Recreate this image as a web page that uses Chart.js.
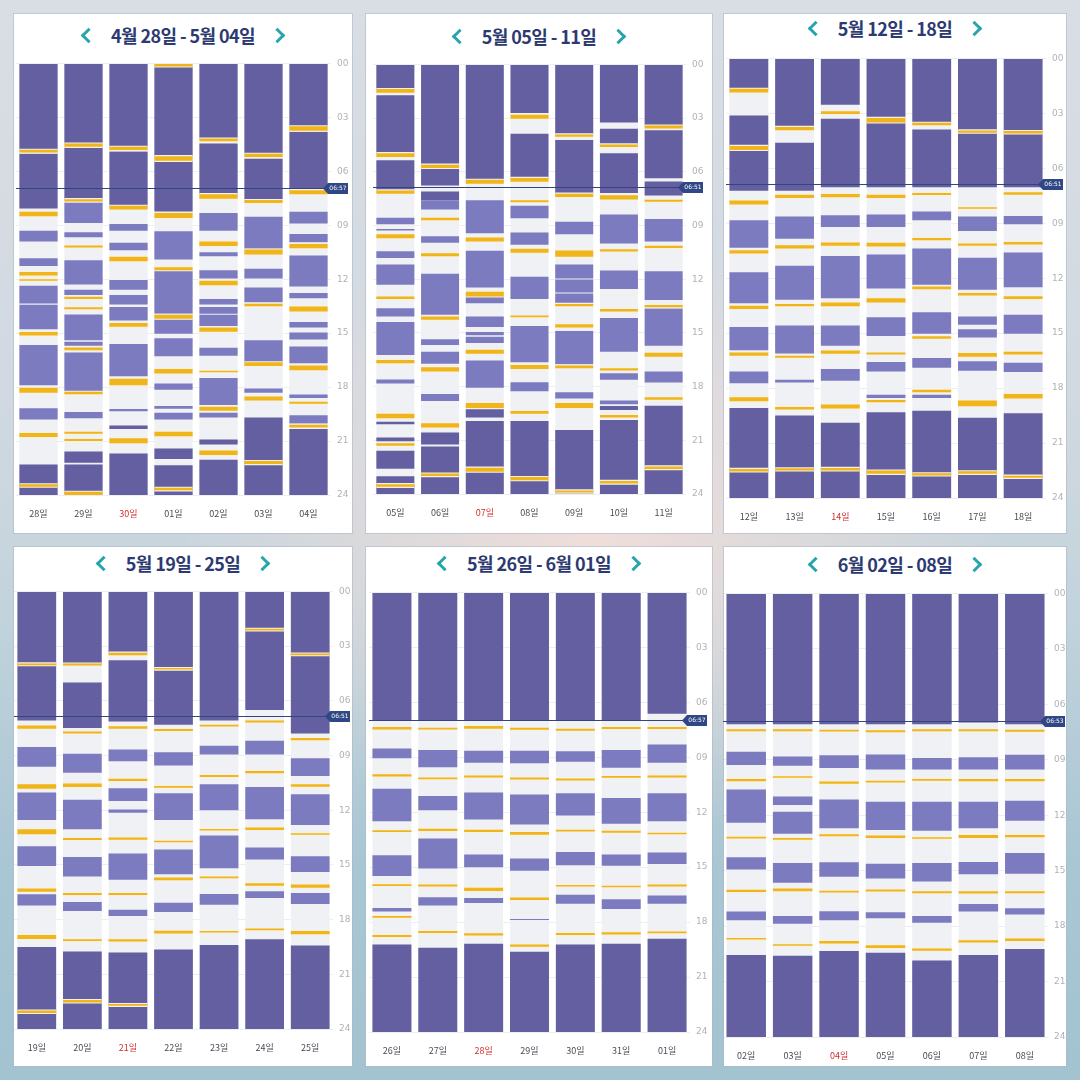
<!DOCTYPE html>
<html>
<head>
<meta charset="utf-8">
<script src="https://cdn.jsdelivr.net/npm/chart.js@4.4.0/dist/chart.umd.min.js"></script>
<style>
  html, body { margin: 0; padding: 0; }
  body {
    width: 1080px; height: 1080px; position: relative; overflow: hidden;
    font-family: "Noto Sans CJK KR", "Noto Sans", sans-serif;
    background:
      radial-gradient(ellipse 420px 300px at 55% 50%, rgba(242,222,218,0.95), rgba(242,222,218,0) 100%),
      linear-gradient(180deg, #d9dee5 0%, #d3d9e0 35%, #c4d4dc 55%, #a9c6d3 80%, #a3c3d1 100%);
  }
  .card {
    position: absolute; background: #fff;
    box-shadow: 0 0 0 1px rgba(170,182,198,0.55);
  }
  .title {
    position: absolute; left: 0; right: 0; height: 24px;
    display: flex; align-items: center; justify-content: center;
    color: #2d3a72; font-weight: 700; font-size: 18px; letter-spacing: -0.6px;
    z-index: 2;
  }
  .chev {
    display: inline-block; width: 8px; height: 8px;
    border-top: 3.5px solid #27a4ae; border-left: 3.5px solid #27a4ae;
  }
  .chev.l { transform: rotate(-45deg); margin-right: 17px; margin-left: 4px; }
  .chev.r { transform: rotate(135deg); margin-left: 17px; margin-right: 4px; }
  canvas { position: absolute; z-index: 1; }
</style>
</head>
<body>
<script>
  // ---- data (hours of the day, 0 = top, 24 = bottom) ----
  const hourTicks = ['00', '03', '06', '09', '12', '15', '18', '21', '24'];
  const dayRange = [0, 24];
  const redDayIndex = 2;

  const weekTitles = ['4월 28일 - 5월 04일', '5월 05일 - 11일', '5월 12일 - 18일',
                      '5월 19일 - 25일', '5월 26일 - 6월 01일', '6월 02일 - 08일'];
  const nowTimes = ['06:57', '06:51', '06:51', '06:51', '06:57', '06:53'];

  const w1Days = ['28일', '29일', '30일', '01일', '02일', '03일', '04일'];
  const w1Night = [
    [[0, 4.79], [5.03, 8.07], [22.3, 24]],
    [[0, 4.46], [4.66, 7.55], [21.58, 22.2], [22.3, 24]],
    [[0, 4.64], [4.9, 7.92], [20.13, 20.33], [21.69, 24]],
    [[0.18, 5.16], [5.43, 8.23], [21.41, 22.0], [22.35, 24]],
    [[0, 4.18], [4.45, 7.27], [20.92, 21.19], [22.04, 24]],
    [[0, 5.03], [5.3, 7.55], [19.69, 24]],
    [[0, 3.5], [3.8, 7.05], [20.33, 24]]
  ];
  const w1Nap = [
    [[9.3, 9.9], [10.83, 11.27], [12.37, 13.35], [13.42, 14.78], [15.66, 17.9], [19.18, 19.8]],
    [[7.73, 8.88], [9.39, 9.67], [10.95, 12.3], [12.59, 12.88], [13.96, 15.39], [15.48, 15.7], [16.08, 18.23], [19.38, 19.73]],
    [[8.93, 9.3], [9.98, 10.39], [12.04, 12.59], [12.88, 13.41], [13.54, 14.29], [15.6, 17.4], [19.22, 19.34]],
    [[9.34, 10.9], [11.55, 13.92], [14.23, 15.04], [15.28, 16.29], [17.8, 18.15], [19.05, 19.2], [19.42, 19.8]],
    [[8.32, 9.3], [10.5, 10.72], [11.5, 11.96], [13.1, 13.41], [13.54, 13.92], [13.98, 14.6], [15.81, 16.25], [17.49, 19.0], [19.42, 19.69]],
    [[8.53, 10.31], [11.42, 11.96], [12.46, 13.28], [15.39, 16.62], [18.08, 18.32]],
    [[8.25, 8.9], [9.48, 9.94], [10.68, 12.4], [12.77, 13.06], [14.38, 14.69], [14.97, 15.35], [15.74, 16.67], [18.41, 18.61], [19.56, 20.02]]
  ];
  const w1Feed = [
    [[4.8, 4.95], [8.25, 8.5], [11.6, 11.8], [12.0, 12.08], [14.93, 15.13], [18.04, 18.32], [20.55, 20.78], [23.4, 23.54]],
    [[4.46, 4.64], [7.55, 7.68], [10.13, 10.24], [12.97, 13.1], [13.56, 13.67], [15.8, 15.95], [18.26, 18.4], [20.48, 20.59], [20.88, 21.0], [23.82, 24]],
    [[4.64, 4.82], [7.92, 8.12], [10.75, 11.0], [14.44, 14.64], [17.53, 17.9], [20.85, 21.12]],
    [[0, 0.17], [5.16, 5.42], [8.32, 8.6], [11.33, 11.5], [13.98, 14.2], [17.0, 17.24], [20.48, 20.74], [23.6, 23.74]],
    [[4.18, 4.33], [7.27, 7.53], [9.9, 10.15], [12.09, 12.33], [14.69, 14.92], [17.09, 17.18], [19.09, 19.32], [21.52, 21.77]],
    [[5.03, 5.2], [7.6, 7.76], [10.35, 10.62], [13.37, 13.5], [16.62, 16.82], [18.52, 18.74], [22.11, 22.28]],
    [[3.5, 3.74], [7.05, 7.27], [10.04, 10.28], [13.52, 13.79], [16.8, 17.06], [18.81, 18.93], [20.1, 20.24]]
  ];

  const w2Days = ['05일', '06일', '07일', '08일', '09일', '10일', '11일'];
  const w2Night = [
    [[0, 1.38], [1.73, 4.96], [5.35, 7.04], [19.96, 20.1], [20.84, 21.06], [21.58, 22.59], [23.01, 24]],
    [[0, 5.6], [5.79, 6.76], [7.1, 7.59], [20.57, 21.24], [21.34, 22.86], [23.0, 24]],
    [[0, 6.45], [19.24, 19.73], [19.92, 22.53], [22.75, 24]],
    [[0, 2.72], [3.87, 6.34], [19.92, 23.05], [23.23, 24]],
    [[0, 3.91], [4.23, 7.22], [20.42, 24]],
    [[0, 3.24], [3.6, 4.47], [4.96, 7.18], [19.09, 19.31], [19.86, 23.27], [23.42, 24]],
    [[0, 3.42], [3.68, 6.36], [6.54, 7.32], [19.07, 22.46], [22.61, 24]]
  ];
  const w2Nap = [
    [[8.57, 8.93], [9.2, 9.28], [10.44, 10.81], [11.18, 12.31], [13.62, 14.08], [14.39, 16.24], [17.6, 17.82]],
    [[7.59, 8.1], [9.6, 9.97], [11.69, 13.99], [15.35, 15.68], [16.05, 16.73], [18.41, 18.81]],
    [[7.59, 9.43], [10.41, 12.46], [12.96, 13.34], [14.08, 14.67], [14.95, 15.13], [15.22, 15.57], [16.54, 18.07]],
    [[7.9, 8.6], [9.39, 10.07], [11.86, 13.1], [14.61, 16.64], [17.75, 18.26]],
    [[8.79, 9.49], [11.18, 11.96], [12.02, 12.74], [12.8, 13.33], [14.89, 16.75], [18.32, 18.67]],
    [[8.38, 10.0], [11.51, 12.55], [14.17, 16.05], [17.25, 17.62], [18.77, 18.99]],
    [[8.64, 9.89], [11.55, 13.16], [13.62, 15.72], [17.16, 17.77]]
  ];
  const w2Feed = [
    [[1.38, 1.58], [4.96, 5.17], [7.04, 7.22], [9.49, 9.71], [12.96, 13.1], [16.51, 16.7], [19.51, 19.77], [21.17, 21.3], [23.45, 23.6]],
    [[5.6, 5.79], [8.57, 8.7], [10.55, 10.72], [14.08, 14.27], [16.92, 17.16], [20.05, 20.29], [22.86, 23.0]],
    [[6.45, 6.67], [9.67, 9.89], [12.7, 12.96], [15.94, 16.16], [18.92, 19.2], [22.53, 22.75]],
    [[2.81, 3.03], [6.34, 6.56], [7.59, 7.7], [10.3, 10.52], [14.03, 14.13], [16.79, 17.01], [19.36, 19.51], [23.05, 23.23]],
    [[3.91, 4.04], [7.22, 7.41], [10.39, 10.75], [13.38, 13.51], [14.52, 14.7], [16.82, 16.97], [18.92, 19.2], [23.8, 23.92]],
    [[4.47, 4.62], [7.31, 7.55], [10.32, 10.45], [13.66, 13.8], [16.97, 17.1], [19.59, 19.73], [23.27, 23.42]],
    [[3.42, 3.58], [7.56, 7.68], [10.13, 10.26], [13.44, 13.57], [16.11, 16.33], [18.59, 18.74], [22.46, 22.61]]
  ];

  const w3Days = ['12일', '13일', '14일', '15일', '16일', '17일', '18일'];
  const w3Night = [
    [[0, 1.66], [3.12, 4.78], [5.0, 7.22], [19.08, 24]],
    [[0, 3.74], [4.6, 7.22], [19.5, 24]],
    [[0, 2.53], [3.29, 7.04], [19.89, 24]],
    [[0, 3.22], [3.52, 7.04], [19.32, 24]],
    [[0, 3.48], [3.88, 7.04], [19.23, 24]],
    [[0, 3.93], [4.06, 7.04], [19.62, 24]],
    [[0, 3.97], [4.1, 7.04], [19.37, 24]]
  ];
  const w3Nap = [
    [[8.84, 10.34], [11.68, 13.37], [14.67, 15.93], [17.1, 17.73]],
    [[8.63, 9.84], [11.32, 13.17], [14.58, 16.11], [17.55, 17.69]],
    [[8.57, 9.2], [10.79, 13.1], [14.58, 15.69], [16.96, 17.6]],
    [[8.52, 9.2], [10.7, 12.56], [14.13, 15.15], [16.57, 17.1], [18.36, 18.54]],
    [[8.36, 8.84], [10.38, 12.36], [13.86, 15.03], [16.35, 16.89], [18.36, 18.54]],
    [[8.63, 9.42], [10.88, 12.63], [14.09, 14.54], [14.79, 15.24], [16.53, 17.05]],
    [[8.61, 9.06], [10.6, 12.5], [14.0, 15.03], [16.62, 17.12]]
  ];
  const w3Feed = [
    [[1.66, 1.86], [4.78, 5.0], [7.76, 7.98], [10.47, 10.65], [13.5, 13.68], [16.05, 16.23], [18.5, 18.72], [22.41, 22.55]],
    [[3.74, 3.92], [7.44, 7.62], [10.2, 10.38], [13.41, 13.53], [16.23, 16.34], [19.03, 19.17], [22.38, 22.5]],
    [[2.89, 3.03], [7.4, 7.58], [10.05, 10.23], [13.32, 13.53], [15.95, 16.13], [18.9, 19.12], [22.36, 22.5]],
    [[3.25, 3.5], [7.44, 7.62], [10.07, 10.27], [13.1, 13.32], [16.05, 16.16], [18.65, 18.77], [22.5, 22.68]],
    [[3.52, 3.65], [7.35, 7.46], [9.8, 9.93], [12.45, 12.6], [15.17, 15.3], [18.09, 18.22], [22.65, 22.77]],
    [[3.93, 4.06], [8.12, 8.21], [10.11, 10.23], [12.81, 12.95], [16.09, 16.29], [18.68, 18.99], [22.54, 22.68]],
    [[3.97, 4.1], [7.31, 7.44], [10.02, 10.16], [12.99, 13.14], [16.02, 16.16], [18.32, 18.57], [22.78, 22.9]]
  ];

  const w4Days = ['19일', '20일', '21일', '22일', '23일', '24일', '25일'];
  const w4Night = [
    [[0, 7.08], [19.5, 24]],
    [[0, 3.96], [4.99, 7.49], [19.75, 24]],
    [[0, 3.36], [3.77, 7.13], [19.8, 24]],
    [[0, 7.31], [19.64, 24]],
    [[0, 7.08], [19.39, 24]],
    [[0, 6.5], [19.08, 24]],
    [[0, 7.8], [19.42, 24]]
  ];
  const w4Nap = [
    [[8.53, 9.62], [11.03, 12.54], [13.98, 15.06], [16.61, 17.23]],
    [[8.91, 9.95], [11.43, 13.04], [14.56, 15.64], [17.04, 17.53]],
    [[8.67, 9.31], [10.8, 11.49], [11.96, 12.14], [14.38, 15.82], [17.46, 17.8]],
    [[8.82, 9.55], [11.07, 12.54], [14.16, 15.51], [17.08, 17.59]],
    [[8.46, 8.95], [10.58, 12.0], [13.39, 15.19], [16.59, 17.19]],
    [[8.19, 8.95], [10.73, 12.49], [14.04, 14.7], [16.45, 16.81]],
    [[9.15, 10.13], [11.12, 12.81], [14.52, 15.39], [16.54, 17.15]]
  ];
  const w4Feed = [
    [[3.95, 4.05], [7.35, 7.53], [10.58, 10.82], [13.05, 13.32], [16.29, 16.47], [18.85, 19.06], [22.99, 23.12]],
    [[3.96, 4.06], [7.68, 7.79], [10.53, 10.73], [13.53, 13.63], [16.54, 16.65], [19.08, 19.18], [22.41, 22.54]],
    [[3.36, 3.5], [7.4, 7.53], [10.27, 10.4], [13.5, 13.62], [16.54, 16.65], [19.08, 19.2], [22.63, 22.73]],
    [[4.2, 4.29], [7.55, 7.66], [10.67, 10.77], [13.68, 13.76], [15.69, 15.84], [18.61, 18.76]],
    [[7.31, 7.41], [10.07, 10.18], [13.03, 13.11], [15.64, 15.73], [18.63, 18.71]],
    [[2.05, 2.14], [7.08, 7.19], [9.85, 9.98], [12.95, 13.08], [16.0, 16.14], [18.49, 18.58]],
    [[3.41, 3.5], [8.04, 8.17], [10.58, 10.71], [13.26, 13.35], [16.07, 16.25], [18.63, 18.81]]
  ];

  const w5Days = ['26일', '27일', '28일', '29일', '30일', '31일', '01일'];
  const w5Night = [
    [[0, 6.99], [19.22, 24]],
    [[0, 6.99], [19.4, 24]],
    [[0, 6.99], [19.18, 24]],
    [[0, 6.99], [19.62, 24]],
    [[0, 6.99], [19.22, 24]],
    [[0, 6.99], [19.18, 24]],
    [[0, 6.63], [18.91, 24]]
  ];
  const w5Nap = [
    [[8.52, 9.06], [10.72, 12.49], [14.35, 15.48], [17.23, 17.42]],
    [[8.61, 9.55], [11.11, 11.9], [13.44, 15.07], [16.64, 17.09]],
    [[8.65, 9.3], [10.92, 12.4], [14.31, 15.01], [16.69, 16.96]],
    [[8.65, 9.33], [11.04, 12.67], [14.53, 15.2], [17.83, 17.88]],
    [[8.67, 9.24], [10.97, 12.18], [14.17, 14.89], [16.51, 17.0]],
    [[8.61, 9.57], [11.22, 12.63], [14.31, 14.92], [16.75, 17.29]],
    [[8.31, 9.3], [10.97, 12.49], [14.2, 14.83], [16.55, 17.0]]
  ];
  const w5Feed = [
    [[7.35, 7.48], [9.93, 10.05], [12.99, 13.08], [15.93, 16.03], [17.67, 17.76], [18.71, 18.82]],
    [[7.39, 7.48], [10.11, 10.2], [12.9, 13.03], [15.95, 16.06], [18.48, 18.59]],
    [[7.3, 7.44], [9.99, 10.1], [12.96, 13.08], [16.12, 16.3], [18.61, 18.73]],
    [[7.39, 7.5], [10.11, 10.22], [13.08, 13.23], [16.66, 16.8], [19.22, 19.35]],
    [[7.44, 7.55], [10.16, 10.27], [12.96, 13.05], [15.97, 16.06], [18.59, 18.7]],
    [[7.35, 7.46], [10.03, 10.12], [13.01, 13.12], [16.01, 16.1], [18.55, 18.68]],
    [[7.35, 7.46], [9.99, 10.1], [13.12, 13.21], [15.95, 16.06], [18.52, 18.61]]
  ];

  const w6Days = ['02일', '03일', '04일', '05일', '06일', '07일', '08일'];
  const w6Night = [
    [[0, 7.08], [19.56, 24]],
    [[0, 7.08], [19.6, 24]],
    [[0, 7.08], [19.35, 24]],
    [[0, 7.08], [19.44, 24]],
    [[0, 7.08], [19.86, 24]],
    [[0, 6.99], [19.56, 24]],
    [[0, 7.08], [19.24, 24]]
  ];
  const w6Nap = [
    [[8.57, 9.28], [10.61, 12.41], [14.28, 14.94], [17.21, 17.69]],
    [[8.82, 9.32], [10.99, 11.45], [11.82, 13.01], [14.58, 15.65], [17.46, 17.87]],
    [[8.75, 9.44], [11.15, 12.71], [14.54, 15.33], [17.2, 17.69]],
    [[8.71, 9.53], [11.27, 12.8], [14.62, 15.43], [17.25, 17.57]],
    [[8.91, 9.53], [11.27, 12.84], [14.58, 15.59], [17.46, 17.82]],
    [[8.86, 9.53], [11.27, 12.71], [14.53, 15.2], [16.8, 17.21]],
    [[8.73, 9.53], [11.22, 12.3], [14.05, 15.17], [17.04, 17.37]]
  ];
  const w6Feed = [
    [[7.35, 7.46], [10.04, 10.16], [13.16, 13.26], [16.04, 16.15], [18.64, 18.73]],
    [[7.35, 7.46], [9.89, 9.98], [13.23, 13.33], [15.97, 16.11], [18.98, 19.06]],
    [[7.38, 7.47], [10.18, 10.3], [13.03, 13.14], [16.09, 16.18], [18.81, 18.94]],
    [[7.4, 7.51], [10.13, 10.23], [13.1, 13.23], [16.02, 16.13], [19.03, 19.18]],
    [[7.35, 7.46], [10.04, 10.14], [13.19, 13.28], [16.11, 16.22], [19.21, 19.33]],
    [[7.35, 7.46], [10.04, 10.16], [13.07, 13.23], [16.11, 16.23], [18.76, 18.89]],
    [[7.38, 7.49], [10.04, 10.16], [13.07, 13.19], [16.11, 16.22], [18.67, 18.81]]
  ];

  // ---- layout (page pixels) ----
  const cardBox = [[14, 14, 338, 519], [366, 14, 346, 519], [724, 14, 342, 519],
                   [14, 547, 338, 519], [366, 547, 346, 519], [724, 547, 342, 519]];
  const plotBox = [[16, 58, 331, 495], [373, 59, 686, 494], [726, 53, 1046, 498],
                   [14, 586, 333, 1029], [369, 587, 690, 1032], [723, 588, 1048, 1037]];
  const titleY = [35, 36, 28, 563, 563, 564];

  const colors = {
    bg: '#eff1f5', night: '#635fa0', nap: '#7d7bbf', feed: '#efb51a', halo: '#f7f1e4',
    day: '#4a4a55', red: '#d3302e', tick: '#b0b2b8', now: '#33447e'
  };

  const weeks = [
    { days: w1Days, night: w1Night, nap: w1Nap, feed: w1Feed },
    { days: w2Days, night: w2Night, nap: w2Nap, feed: w2Feed },
    { days: w3Days, night: w3Night, nap: w3Nap, feed: w3Feed },
    { days: w4Days, night: w4Night, nap: w4Nap, feed: w4Feed },
    { days: w5Days, night: w5Night, nap: w5Nap, feed: w5Feed },
    { days: w6Days, night: w6Night, nap: w6Nap, feed: w6Feed }
  ];

  // one dataset per segment slot, all overlaid on the same column
  function layer(perDay, color, order, name) {
    var n = Math.max.apply(null, perDay.map(function (d) { return d.length; }));
    var sets = [];
    for (var k = 0; k < n; k++) {
      sets.push({
        label: name + k,
        data: perDay.map(function (d) { return d[k] || null; }),
        backgroundColor: color,
        borderWidth: 0,
        order: order,
        grouped: false,
        categoryPercentage: 1,
        barPercentage: 0.85
      });
    }
    return sets;
  }

  // thin light rim around each feeding mark
  function widen(perDay, pad) {
    return perDay.map(function (d) {
      return d.map(function (s) { return [Math.max(0, s[0] - pad), Math.min(24, s[1] + pad)]; });
    });
  }

  var nowLine = {
    id: 'nowLine',
    afterDraw: function (chart, args, opts) {
      var y = Math.round(chart.scales.y.getPixelForValue(opts.value)) + 0.5;
      var a = chart.chartArea, c = chart.ctx;
      c.save();
      c.strokeStyle = colors.now;
      c.lineWidth = 1;
      c.beginPath(); c.moveTo(a.left, y); c.lineTo(a.right, y); c.stroke();
      var x0 = a.right - 8, w = 25, h = 11;
      c.fillStyle = '#2f4785';
      c.beginPath();
      c.moveTo(x0, y); c.lineTo(x0 + 5, y - h / 2); c.lineTo(x0 + w, y - h / 2);
      c.lineTo(x0 + w, y + h / 2); c.lineTo(x0 + 5, y + h / 2); c.closePath(); c.fill();
      c.fillStyle = '#ffffff';
      c.font = '6px "DejaVu Sans", sans-serif';
      c.textAlign = 'center'; c.textBaseline = 'middle';
      c.fillText(opts.label, x0 + 5 + (w - 5) / 2, y);
      c.restore();
    }
  };

  weeks.forEach(function (wk, i) {
    var cb = cardBox[i], pb = plotBox[i];
    var card = document.createElement('div');
    card.className = 'card';
    card.style.left = cb[0] + 'px'; card.style.top = cb[1] + 'px';
    card.style.width = cb[2] + 'px'; card.style.height = cb[3] + 'px';
    var t = document.createElement('div');
    t.className = 'title';
    t.style.top = (titleY[i] - cb[1] - 12) + 'px';
    t.innerHTML = '<span class="chev l"></span><span>' + weekTitles[i] + '</span><span class="chev r"></span>';
    card.appendChild(t);
    document.body.appendChild(card);

    var topPad = 6, axisW = 22, axisH = 30;
    var cv = document.createElement('canvas');
    var cw = (pb[2] - pb[0]) + axisW, ch = (pb[3] - pb[1]) + topPad + axisH;
    cv.width = cw; cv.height = ch;
    cv.style.left = pb[0] + 'px'; cv.style.top = (pb[1] - topPad) + 'px';
    cv.style.width = cw + 'px'; cv.style.height = ch + 'px';
    document.body.appendChild(cv);

    var hm = nowTimes[i].split(':');
    var datasets = []
      .concat(layer(wk.feed, colors.feed, 1, 'feed'))
      .concat(layer(widen(wk.feed, 0.06), colors.halo, 1.5, 'rim'))
      .concat(layer(wk.nap, colors.nap, 2, 'nap'))
      .concat(layer(wk.night, colors.night, 3, 'night'))
      .concat(layer(wk.days.map(function () { return [dayRange]; }), colors.bg, 4, 'bg'));

    new Chart(cv.getContext('2d'), {
      type: 'bar',
      data: { labels: wk.days, datasets: datasets },
      plugins: [nowLine],
      options: {
        responsive: false,
        animation: false,
        devicePixelRatio: 1,
        layout: { padding: { top: topPad, left: 0, right: 0, bottom: 0 } },
        plugins: {
          legend: { display: false },
          tooltip: { enabled: false },
          nowLine: { value: (+hm[0]) + (+hm[1]) / 60, label: nowTimes[i] }
        },
        scales: {
          x: {
            grid: { display: false, drawTicks: false },
            border: { display: false },
            ticks: {
              padding: 13,
              font: { size: 9, family: '"Noto Sans CJK KR", sans-serif' },
              color: function (ctx) { return ctx.index === redDayIndex ? colors.red : colors.day; }
            },
            afterFit: function (s) { s.height = axisH; }
          },
          y: {
            position: 'right',
            reverse: true,
            min: dayRange[0],
            max: dayRange[1],
            z: 1,
            grid: { color: 'rgba(150,158,180,0.18)', drawTicks: false },
            border: { display: false },
            ticks: {
              stepSize: 3,
              padding: 6,
              color: colors.tick,
              font: { size: 9, family: '"DejaVu Sans", sans-serif' },
              callback: function (v) { return hourTicks[v / 3]; }
            },
            afterFit: function (s) { s.width = axisW; }
          }
        }
      }
    });
  });
</script>
</body>
</html>
